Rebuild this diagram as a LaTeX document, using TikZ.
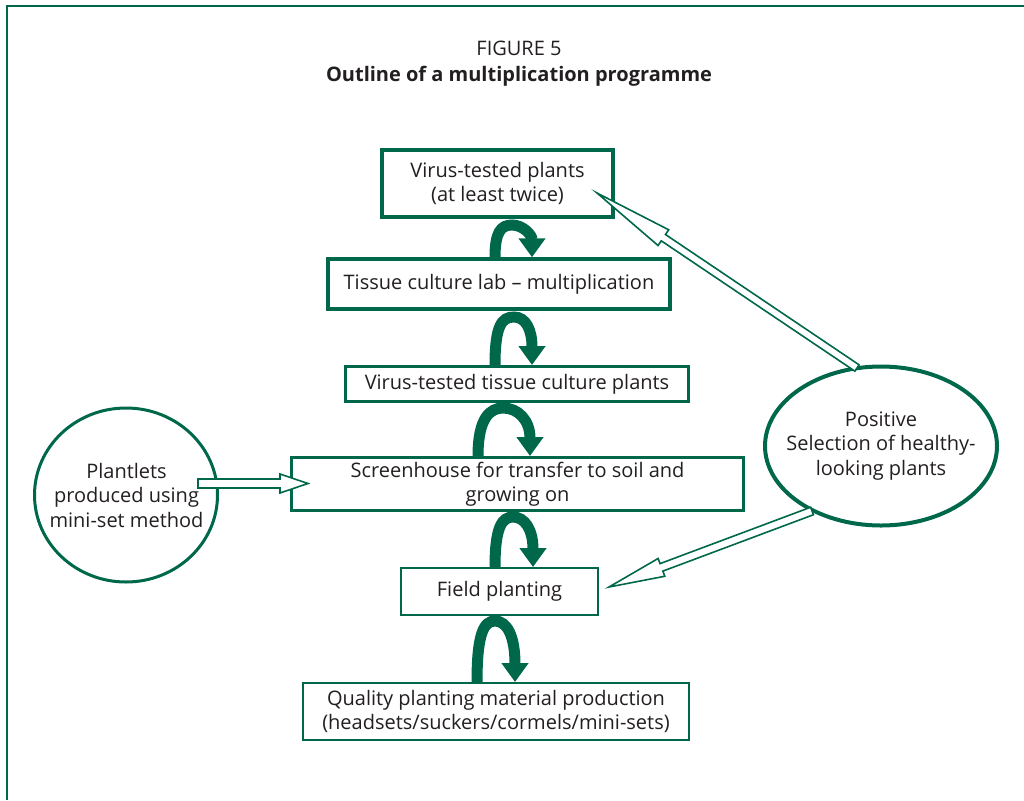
\documentclass[tikz,border=0pt]{standalone}
\usepackage{fontspec}
\setmainfont{Open Sans}
\usetikzlibrary{shapes.geometric,arrows.meta,calc}
\definecolor{fgreen}{RGB}{0,104,74}
\definecolor{ftext}{RGB}{35,31,32}
\newcommand\hollowarrow[5]{% start, tip, half shaft, half head, head length
  \coordinate (ha-h) at ($(#2)!#5!(#1)$);
  \draw[hollow] ($(#1)!#3!90:(#2)$) -- ($(ha-h)!#3!90:(#2)$) -- ($(ha-h)!#4!90:(#2)$)
    -- (#2) -- ($(ha-h)!#4!-90:(#2)$) -- ($(ha-h)!#3!-90:(#2)$) -- ($(#1)!#3!-90:(#2)$) -- cycle;
}
\begin{document}
\begin{tikzpicture}[x=1pt,y=-1pt,
  every node/.style={text=ftext,font=\fontsize{20}{24.5}\selectfont,align=center,inner sep=0pt},
  box/.style={draw=fgreen,fill=white,rectangle},
  ovalline/.style={draw=fgreen,line width=3pt},
  loopar/.style={draw=fgreen,line width=11pt,-{Triangle[width=26pt,length=19pt]}},
  hollow/.style={draw=fgreen,line width=1.6pt,fill=white,line join=miter}]
\useasboundingbox (0,0) rectangle (1024,800);
\draw[fgreen,line width=2pt] (7,800) -- (7,6) -- (1024,6);
\node (t1) at (519,48) {FIGURE 5};
\node[font=\fontsize{20}{24}\selectfont\bfseries] (t2) at (519,76) {Outline of a multiplication programme};
\node[box,line width=3.5pt,minimum width=231pt,minimum height=67pt] (b1) at (497.5,183.5) {Virus-tested plants\\(at least twice)};
\node[box,line width=3.5pt,minimum width=342pt,minimum height=50pt] (b2) at (499,284) {Tissue culture lab -- multiplication};
\node[box,line width=3pt,minimum width=343pt,minimum height=35pt] (b3) at (517,384) {Virus-tested tissue culture plants};
\node[box,line width=3pt,minimum width=452pt,minimum height=53pt] (b4) at (517.5,484) {Screenhouse for transfer to soil and\\growing on};
\node[box,line width=2pt,minimum width=197pt,minimum height=47pt] (b5) at (499.5,591.5) {Field planting};
\node[box,line width=2pt,minimum width=386pt,minimum height=57pt] (b6) at (496,711.5) {Quality planting material production\\(headsets/suckers/cormels/mini-sets)};
\node (L) at (126.5,495) {Plantlets\\produced using\\mini-set method};
\draw[ovalline] (126,495) ellipse [x radius=91.5, y radius=87];
\node (R) at (881,446) {Positive\\Selection of healthy-\\looking plants};
\draw[ovalline,line width=4pt] (881,446) ellipse [x radius=116, y radius=79.5];
% loop arrows
\draw[loopar] (495,0 |- b2.north) .. controls (495,232) and (501,225) .. (512,225)
   .. controls (523,225) and (532,235) .. (532,0 |- b2.north);
\draw[loopar] (495,0 |- b3.north) .. controls (495,325) and (502,317) .. (514,317)
   .. controls (526,317) and (532,330) .. (532,0 |- b3.north);
\draw[loopar] (478,0 |- b4.north) .. controls (478,418) and (490,408) .. (503,408)
   .. controls (518,408) and (530,420) .. (530,0 |- b4.north);
\draw[loopar] (495,0 |- b5.north) .. controls (495,527) and (502,517) .. (513,517)
   .. controls (525,517) and (533,530) .. (533,0 |- b5.north);
\draw[loopar] (477,0 |- b6.north) .. controls (477,633) and (484,621) .. (495,621)
   .. controls (507,621) and (515,636) .. (515,0 |- b6.north);
% hollow arrows
\coordinate (la) at (198,483.5);
\coordinate (lb) at (308,483.5);
\hollowarrow{la}{lb}{4.5pt}{9.5pt}{28pt}
\coordinate (ua) at (857,368);
\coordinate (ub) at (597,193);
\hollowarrow{ua}{ub}{3.8pt}{9.5pt}{80pt}
\coordinate (da) at (812,511);
\coordinate (db) at (609,587);
\hollowarrow{da}{db}{4pt}{9.5pt}{56pt}
\end{tikzpicture}
\end{document}
